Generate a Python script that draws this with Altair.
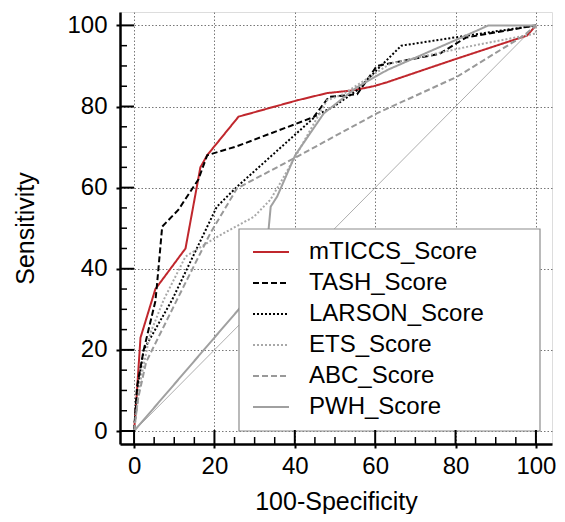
import altair as alt
import pandas as pd

series_names = ["mTICCS_Score", "TASH_Score", "LARSON_Score", "ETS_Score", "ABC_Score", "PWH_Score"]

mticcs_x = [0, 0.4, 1.6, 5.3, 12.8, 16.5, 18.2, 26, 40.5, 48, 54.6, 59.6, 63, 80.3, 97.8, 100]
mticcs_y = [0, 5, 23, 35, 45, 65, 68, 77.5, 81.5, 83.3, 84, 85, 86, 91.8, 97.5, 100]

tash_x = [0, 0.75, 2.4, 5.3, 5.7, 7, 11, 16, 18.2, 25.6, 44.7, 48.5, 55.5, 60.4, 76, 82.6, 100]
tash_y = [0, 11, 20, 32, 36, 50.4, 54.5, 62, 68, 70.2, 77.4, 82.4, 83, 90, 93, 97, 100]

larson_x = [0, 0.8, 2.4, 9.5, 20.6, 25.6, 45.5, 49.7, 55.5, 60.4, 66.5, 80.3, 100]
larson_y = [0, 10, 20, 32.4, 55.3, 60.2, 77.9, 80, 84, 89, 95, 97.1, 100]

ets_x = [0, 1.5, 4, 7.4, 12.8, 19.4, 23.1, 29.8, 33.9, 36.3, 40.1, 48, 52, 63.8, 82.8, 100, 100]
ets_y = [0, 12, 24, 32.4, 43, 47.1, 49.2, 52.8, 57, 61, 67.6, 81.5, 83, 90.6, 94.7, 98, 100]

abc_x = [0, 1, 3, 10.7, 19, 25.6, 40.5, 60.4, 80.3, 97, 100]
abc_y = [0, 8, 17, 32.4, 48.8, 59.8, 67.6, 78.3, 87.3, 97.5, 100]

pwh_x = [0, 33, 33.5, 34, 35.6, 40.1, 47.2, 55.5, 63, 81, 88.2, 100]
pwh_y = [0, 38, 50, 55.3, 57.8, 68, 78.3, 84.8, 89, 96.8, 100, 100]

diag_x = [0, 100]
diag_y = [0, 100]

major_ticks = [0, 20, 40, 60, 80, 100]
minor_ticks = [5, 10, 15, 25, 30, 35, 45, 50, 55, 65, 70, 75, 85, 90, 95]

colors = ["#C0272D", "#000000", "#000000", "#A8A8A8", "#999999", "#A0A0A0"]
dashes = [[1, 0], [6, 3], [2, 2], [2, 2], [6, 3], [1, 0]]

W, H = 432, 432
FONT = "Liberation Sans"

rows = []
for name, xs, ys in zip(series_names,
                        [mticcs_x, tash_x, larson_x, ets_x, abc_x, pwh_x],
                        [mticcs_y, tash_y, larson_y, ets_y, abc_y, pwh_y]):
    for i, (xv, yv) in enumerate(zip(xs, ys)):
        rows.append({"series": name, "idx": i, "x": xv, "y": yv})
df = pd.DataFrame(rows)
diag_df = pd.DataFrame({"x": diag_x, "y": diag_y})
major_df = pd.DataFrame({"v": major_ticks})
minor_df = pd.DataFrame({"v": minor_ticks})

xscale = alt.Scale(domain=[-3.5, 104], nice=False, zero=False)
yscale = alt.Scale(domain=[-3.2, 103.3], nice=False, zero=False)

xaxis = alt.Axis(values=major_ticks, title="100-Specificity", grid=True,
                 gridColor="#777777", gridDash=[1.5, 2], gridWidth=1,
                 domainColor="black", domainWidth=2.5, tickColor="black", tickWidth=2,
                 tickSize=4, labelFontSize=24, labelFont=FONT, labelColor="black",
                 labelPadding=6, titleFont=FONT, titleFontSize=25, titleFontWeight="normal",
                 titleColor="black", titleX=W / 2, titleY=65, titleBaseline="alphabetic",
                 titleAlign="center")
yaxis = alt.Axis(values=major_ticks, title="Sensitivity", grid=True,
                 gridColor="#777777", gridDash=[1.5, 2], gridWidth=1,
                 domainColor="black", domainWidth=2.5, tickColor="black", tickWidth=2,
                 tickSize=4, labelFontSize=24, labelFont=FONT, labelColor="black",
                 labelPadding=9, titleFont=FONT, titleFontSize=25, titleFontWeight="normal",
                 titleColor="black", titleX=-95, titleY=H / 2, titleAngle=-90,
                 titleAlign="center", titleBaseline="middle")

legend_kw = dict(orient="none", legendX=119, legendY=208, title=None,
                 symbolType="stroke", symbolSize=1296, symbolStrokeWidth=2,
                 labelFontSize=24, labelFont=FONT, labelColor="black", padding=13,
                 rowPadding=0, labelOffset=19, labelLimit=0)

diag = alt.Chart(diag_df).mark_line(color="#999999", strokeWidth=0.8).encode(
    x=alt.X("x:Q", scale=xscale, axis=xaxis),
    y=alt.Y("y:Q", scale=yscale, axis=yaxis),
)

lines = alt.Chart(df).mark_line(strokeWidth=2).encode(
    x=alt.X("x:Q", scale=xscale),
    y=alt.Y("y:Q", scale=yscale),
    order=alt.Order("idx:Q"),
    color=alt.Color("series:N", scale=alt.Scale(domain=series_names, range=colors),
                    sort=series_names, legend=alt.Legend(**legend_kw)),
    strokeDash=alt.StrokeDash("series:N", scale=alt.Scale(domain=series_names, range=dashes),
                              sort=series_names, legend=alt.Legend(**legend_kw)),
)

legend_box = alt.Chart(diag_df.head(1)).mark_rect(
    fill="white", stroke="#8C8C8C", strokeWidth=1.2).encode(
    x=alt.value(119), x2=alt.value(420), y=alt.value(217), y2=alt.value(419))

xmajor = alt.Chart(major_df).mark_rule(color="black", strokeWidth=2).encode(
    x=alt.X("v:Q", scale=xscale), y=alt.value(H), y2=alt.value(H - 14))
xminor = alt.Chart(minor_df).mark_rule(color="black", strokeWidth=1.5).encode(
    x=alt.X("v:Q", scale=xscale), y=alt.value(H), y2=alt.value(H - 7))
ymajor = alt.Chart(major_df).mark_rule(color="black", strokeWidth=2).encode(
    y=alt.Y("v:Q", scale=yscale), x=alt.value(0), x2=alt.value(14))
yminor = alt.Chart(minor_df).mark_rule(color="black", strokeWidth=1.5).encode(
    y=alt.Y("v:Q", scale=yscale), x=alt.value(0), x2=alt.value(7))

chart = alt.layer(diag, lines, legend_box, xmajor, xminor, ymajor, yminor).properties(
    width=W, height=H,
    autosize=alt.AutoSizeParams(type="none"),
    padding={"left": 112, "top": 4, "right": 5, "bottom": 70},
).configure_view(stroke=None).configure(background="white")

chart.save("out.html", embed_options={"renderer": "svg", "actions": False})
